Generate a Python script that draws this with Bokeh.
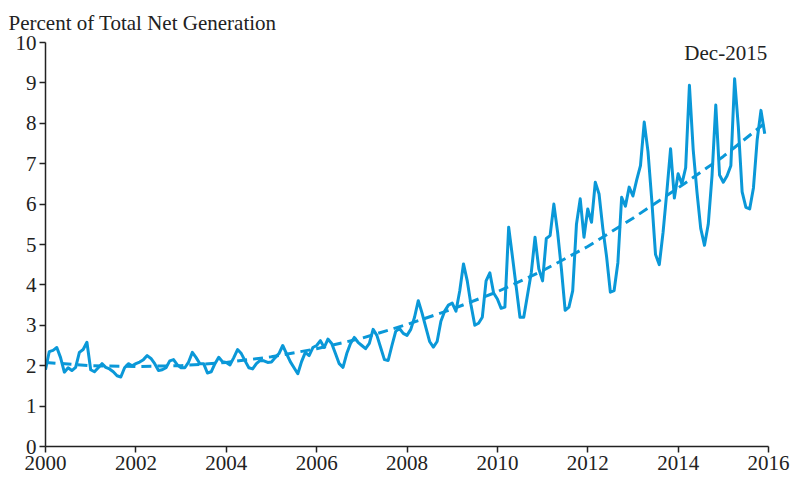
from bokeh.plotting import figure
from bokeh.models import Range1d, FixedTicker, Label
from bokeh.embed import file_html
from bokeh.resources import INLINE

# Monthly wind share of total net generation (%), Jan..Dec of each year
wind_2000 = [1.90, 2.35, 2.38, 2.45, 2.20, 1.84, 1.95, 1.88, 1.96, 2.33, 2.40, 2.58]
wind_2001 = [1.90, 1.85, 1.95, 2.05, 1.96, 1.92, 1.85, 1.75, 1.72, 1.95, 2.05, 2.00]
wind_2002 = [2.05, 2.09, 2.15, 2.25, 2.18, 2.05, 1.88, 1.90, 1.95, 2.12, 2.15, 2.02]
wind_2003 = [1.95, 1.95, 2.09, 2.33, 2.20, 2.05, 2.05, 1.82, 1.85, 2.05, 2.21, 2.10]
wind_2004 = [2.08, 2.02, 2.20, 2.40, 2.30, 2.12, 1.95, 1.92, 2.05, 2.13, 2.12, 2.08]
wind_2005 = [2.09, 2.20, 2.30, 2.50, 2.30, 2.10, 1.95, 1.80, 2.10, 2.33, 2.25, 2.45]
wind_2006 = [2.50, 2.62, 2.45, 2.66, 2.55, 2.30, 2.05, 1.96, 2.30, 2.55, 2.70, 2.58]
wind_2007 = [2.50, 2.42, 2.55, 2.90, 2.75, 2.45, 2.15, 2.13, 2.50, 2.85, 2.92, 2.80]
wind_2008 = [2.75, 2.90, 3.20, 3.61, 3.30, 2.95, 2.60, 2.46, 2.60, 3.10, 3.35, 3.50]
wind_2009 = [3.55, 3.35, 3.85, 4.52, 4.10, 3.50, 3.00, 3.05, 3.20, 4.10, 4.30, 3.80]
wind_2010 = [3.65, 3.42, 3.45, 5.43, 4.70, 3.95, 3.20, 3.20, 3.75, 4.30, 5.18, 4.40]
wind_2011 = [4.10, 5.15, 5.22, 6.00, 5.30, 4.40, 3.37, 3.45, 3.85, 5.50, 6.13, 5.18]
wind_2012 = [5.88, 5.55, 6.54, 6.25, 5.40, 4.70, 3.82, 3.86, 4.55, 6.17, 5.95, 6.42]
wind_2013 = [6.20, 6.60, 6.95, 8.03, 7.30, 6.10, 4.75, 4.50, 5.30, 6.30, 7.37, 6.15]
wind_2014 = [6.75, 6.50, 6.90, 8.94, 7.35, 6.30, 5.40, 4.98, 5.50, 6.70, 8.45, 6.72]
wind_2015 = [6.54, 6.70, 6.95, 9.10, 7.90, 6.30, 5.92, 5.88, 6.40, 7.60, 8.32, 7.74]

years = list(range(2000, 2016))
yearly = [wind_2000, wind_2001, wind_2002, wind_2003, wind_2004, wind_2005,
          wind_2006, wind_2007, wind_2008, wind_2009, wind_2010, wind_2011,
          wind_2012, wind_2013, wind_2014, wind_2015]

# Trend line (dashed), read at yearly points
trend_x = [2000, 2001, 2002, 2003, 2004, 2005, 2006, 2007, 2008, 2009,
           2010, 2011, 2012, 2013, 2014, 2015, 2015 + 11 / 12]
trend_y = [2.08, 2.00, 1.98, 2.00, 2.08, 2.22, 2.42, 2.68, 3.02, 3.40,
           3.83, 4.35, 4.95, 5.65, 6.40, 7.18, 8.00]

x_ticks = [2000, 2002, 2004, 2006, 2008, 2010, 2012, 2014, 2016]
y_ticks = [0, 1, 2, 3, 4, 5, 6, 7, 8, 9, 10]

t = []
v = []
for yr, vals in zip(years, yearly):
    for m, val in enumerate(vals):
        t.append(yr + m / 12)
        v.append(val)

BLUE = "#0A98D8"
FONT = "Liberation Serif"

p = figure(width=790, height=478, output_backend="svg", toolbar_location=None,
           x_range=Range1d(2000, 2016), y_range=Range1d(0, 10),
           min_border_left=45, min_border_right=22, min_border_top=42,
           min_border_bottom=32)
p.outline_line_color = None
p.xgrid.visible = False
p.ygrid.visible = False
p.background_fill_color = "white"

p.title.text = "Percent of Total Net Generation"
p.title.align = "left"
p.title.offset = -37
p.title.standoff = 16
p.title.text_font = FONT
p.title.text_font_size = "21px"
p.title.text_font_style = "normal"
p.title.text_color = "#222222"

p.line(trend_x, trend_y, line_color=BLUE, line_width=3, line_dash="10 6")
p.line(t, v, line_color=BLUE, line_width=3, line_join="round")

for ax in (p.xaxis[0], p.yaxis[0]):
    ax.axis_line_color = "#222222"
    ax.axis_line_width = 1.5
    ax.major_tick_line_color = "#222222"
    ax.major_tick_line_width = 1.5
    ax.major_tick_out = 6
    ax.major_tick_in = 0
    ax.minor_tick_line_color = None
    ax.major_label_text_font = FONT
    ax.major_label_text_font_size = "21px"
    ax.major_label_text_color = "#222222"
    ax.major_label_standoff = 3

p.xaxis.ticker = FixedTicker(ticks=x_ticks)
p.yaxis.ticker = FixedTicker(ticks=y_ticks)

dec = Label(x=2015.97, y=9.74, text="Dec-2015",
            text_font=FONT, text_font_size="21px", text_color="#222222",
            text_align="right", text_baseline="alphabetic")
p.add_layout(dec)

open("out.html", "w").write(file_html(p, INLINE))
